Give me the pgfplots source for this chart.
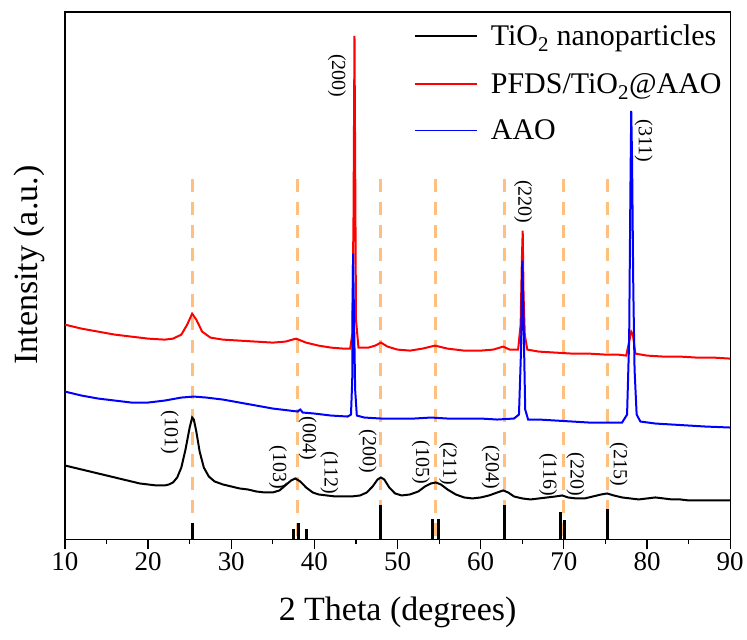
\documentclass[border=0pt]{standalone}
\usepackage{fontspec}
\setmainfont{Liberation Serif}
\usepackage{pgfplots}
\pgfplotsset{compat=1.18}
\definecolor{peakline}{RGB}{255,191,127}
\definecolor{pblue}{RGB}{0,0,255}
\definecolor{pred}{RGB}{255,0,0}

\begin{document}
\begin{tikzpicture}
\begin{axis}[
    width=666pt, height=528pt, scale only axis,
    xmin=10, xmax=90, ymin=0, ymax=528,
    xtick={10,20,...,90}, minor x tick num=1,
    ytick=\empty, xtick pos=bottom,
    tick align=outside,
    major tick length=10pt, minor tick length=5pt,
    tick style={black, line width=1.2pt},
    axis line style={line width=1.2pt},
    /pgf/number format/assume math mode=true,
    tick label style={font=\fontsize{27}{32}\selectfont},
    xlabel={2 Theta (degrees)},
    ylabel={Intensity (a.u.)},
    label style={font=\fontsize{34}{40}\selectfont},
    xlabel style={at={(axis description cs:0.5,-0.108)}, anchor=north, inner sep=0pt},
    ylabel style={at={(axis description cs:-0.030,0.52)}, anchor=south, inner sep=0pt},
]
% guide lines
\addplot[peakline, line width=3pt, dash pattern=on 13pt off 10pt, unbounded coords=jump]
coordinates {
(25.4,361)(25.4,0)(25.4,nan)
(38.0,361)(38.0,0)(38.0,nan)
(48.0,361)(48.0,0)(48.0,nan)
(54.6,361)(54.6,0)(54.6,nan)
(62.9,361)(62.9,0)(62.9,nan)
(70.0,361)(70.0,0)(70.0,nan)
(75.3,361)(75.3,0)
};
% reference sticks (anatase)
\addplot[ycomb, black, line width=3pt] coordinates {
(25.4,16)(37.5,10)(38.1,16)(39.0,10)(48.0,34)(54.2,20)(54.9,20)(62.9,34)(69.6,27)(70.1,19)(75.3,30)
};
% TiO2 nanoparticles
\addplot[black, line width=2pt] coordinates {
(10,74)(11,72)(12,70)(13,68)(14,66)(15,64)(16,62)(17,60)(18,58)(19,56)(20,55)(21,54)(22,54)
(22.5,55)(23,57)(23.5,62)(24,72)(24.5,90)(25,112)(25.3,122)(25.5,120)(25.8,108)(26.2,88)
(26.7,72)(27.3,63)(28,58)(29,55)(30,53)(31,51)(32,50)(33,48)(34,47)(35,47)(35.8,49)(36.5,54)
(37.2,59)(37.7,61)(38.3,58)(39,52)(39.8,47)(40.5,45)(41.5,44)(42.5,43)(43.5,43)(44.5,43)
(45.5,44)(46.3,47)(47,53)(47.6,60)(48,62)(48.4,60)(49,52)(49.7,46)(50.5,44)(51.5,45)(52.5,48)
(53.3,53)(54,56)(54.6,57)(55.2,55)(56,50)(57,45)(58,42)(59,41)(60,42)(61,44)(62,47)(62.7,49)
(63.3,47)(64,43)(65,41)(66,40)(67,41)(68,42)(69,43)(69.8,44)(70.5,42)(71.5,41)(72.5,41)
(73.5,43)(74.5,45)(75.2,46)(76,44)(77,42)(78,41)(79,40)(80,41)(81,42)(82,41)(83,40)(84,40)
(85,39)(86,39)(87,39)(88,39)(89,39)(90,39)
};
% PFDS/TiO2@AAO
\addplot[pred, line width=2pt] coordinates {
(10,215)(12,211)(14,208)(16,205)(18,203)(20,201)(22,200)(23,201)(24,205)(24.7,215)(25.3,226)
(25.8,220)(26.5,208)(27.5,202)(29,200)(31,199)(33,198)(35,197)(36.5,198)(37.8,201)(39,197)
(40.5,194)(42,192)(43.5,191)(44.3,191)(44.55,205)(44.7,320)(44.82,504)(44.9,380)(45.0,220)
(45.3,192)(46.5,192)(47.3,194)(48,197)(48.8,193)(50,190)(51.5,189)(53,191)(54.5,194)(56,191)
(58,189)(60,189)(61.5,190)(62.7,193)(63.5,190)(64.5,190)(64.8,215)(64.95,280)(65.05,309)
(65.15,245)(65.3,205)(65.6,190)(67,188)(69,187)(71,186)(73,186)(75,185)(76.5,185)(77.5,184)
(77.9,200)(78.1,208)(78.3,205)(78.6,186)(80,184)(82,183)(84,183)(86,182)(88,182)(90,181)
};
% AAO
\addplot[pblue, line width=2pt] coordinates {
(10,148)(12,144)(14,141)(16,139)(18,137)(20,137)(22,139)(24,142)(25.5,143)(27,142)(29,140)
(31,137)(33,134)(35,131)(37,129)(38,128)(38.3,130)(38.6,127)(40,126)(42,124)(44,123)
(44.4,125)(44.55,160)(44.65,286)(44.75,230)(44.9,150)(45.1,124)(46,122)(48,121)(50,121)
(52,121)(54,122)(56,121)(58,121)(60,121)(62,120)(64,121)(64.6,125)(64.85,190)(65.0,279)
(65.15,220)(65.35,130)(65.7,120)(67,120)(69,119)(71,118)(73,117)(75,117)(77,117)(77.6,125)
(77.85,200)(78.0,349)(78.1,429)(78.2,380)(78.35,250)(78.5,170)(78.75,125)(79.2,118)(81,116)
(83,115)(85,114)(87,113)(90,112)
};
% legend
\draw[draw=black, line width=1.6pt] (rel axis cs:0.5255,0.9545) -- (rel axis cs:0.620,0.9545);
\draw[draw=pred, line width=1.6pt] (rel axis cs:0.5255,0.8636) -- (rel axis cs:0.620,0.8636);
\draw[draw=pblue, line width=1.6pt] (rel axis cs:0.5255,0.7750) -- (rel axis cs:0.620,0.7750);
\begin{scope}[every node/.style={anchor=base west, inner sep=0pt, font=\fontsize{30}{36}\selectfont}]
\node at (rel axis cs:0.640,0.9356) {TiO\textsubscript{2} nanoparticles};
\node at (rel axis cs:0.640,0.8447) {PFDS/TiO\textsubscript{2}@AAO};
\node at (rel axis cs:0.640,0.7576) {AAO};
\end{scope}
% peak labels
\begin{scope}[every node/.style={rotate=-90, font=\fontsize{20}{24}\selectfont}]
\node at (axis cs:22.6,107) {(101)};
\node at (axis cs:35.6,72) {(103)};
\node at (axis cs:39.2,101) {(004)};
\node at (axis cs:41.8,67) {(112)};
\node at (axis cs:46.4,88) {(200)};
\node at (axis cs:52.8,77) {(105)};
\node at (axis cs:56.1,76) {(211)};
\node at (axis cs:61.2,72) {(204)};
\node at (axis cs:68.1,65) {(116)};
\node at (axis cs:71.4,65) {(220)};
\node at (axis cs:76.6,75) {(215)};
\node at (axis cs:42.7,464) {(200)};
\node at (axis cs:65.1,338) {(220)};
\node at (axis cs:79.6,399) {(311)};
\end{scope}
\end{axis}
\path ([xshift=-65pt,yshift=-100pt]current axis.south west) rectangle ([xshift=16pt,yshift=12pt]current axis.north east);
\end{tikzpicture}
\end{document}
